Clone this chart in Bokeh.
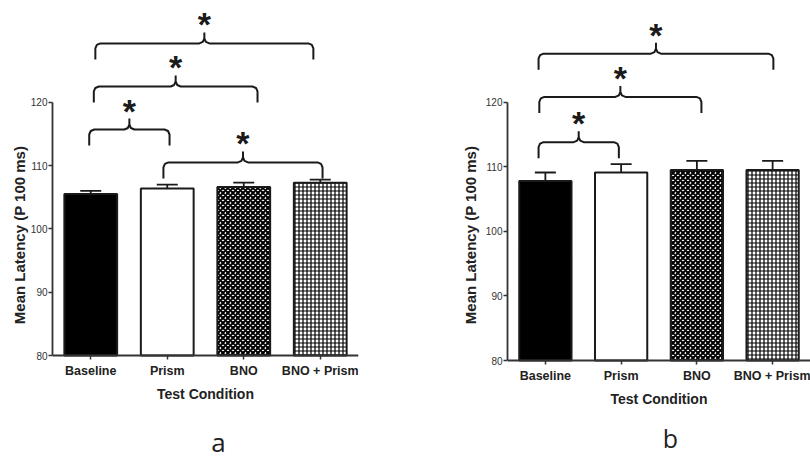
from bokeh.plotting import figure
from bokeh.layouts import row
from bokeh.models import (FixedTicker, ColumnDataSource, Range1d, FactorRange,
                          Whisker, TeeHead, Label)
from bokeh.core.properties import value
from bokeh.embed import file_html
from bokeh.resources import INLINE

# ---------------- data ----------------
categories = ["Baseline", "Prism", "BNO", "BNO + Prism"]
a_means = [105.5, 106.4, 106.6, 107.3]
a_sem = [0.5, 0.6, 0.7, 0.5]
b_means = [107.8, 109.1, 109.5, 109.5]
b_sem = [1.3, 1.3, 1.4, 1.4]
y_ticks = [80, 90, 100, 110, 120]
y_label = "Mean Latency (P 100 ms)"
x_label = "Test Condition"

# significance brackets (category-axis position of ends, height in ms units)
a_br_left = [0.48, 0.54, 0.56, 1.45]
a_br_right = [1.53, 2.68, 3.41, 3.53]
a_br_level = [115.7, 122.5, 129.3, 110.5]
b_br_left = [0.41, 0.42, 0.41]
b_br_right = [1.47, 2.56, 3.51]
b_br_level = [113.8, 120.8, 127.5]

fills = ["black", "white", "white", "white"]
hatches = [" ", " ", "diagonal_cross", "cross"]
hatch_scales = [4, 4, 5, 4]
hatch_weights = [1, 1, 2.0, 1.2]
INK = "#1a1a1a"


def panel(means, sem, br_l, br_r, br_lev, letter, border_l, border_r, axis_px,
          px_unit, ylab_standoff, letter_x, letter_px, letter_size):
    # frame spans from 10 px below the top to the bottom of the figure;
    # the value axis' 80 mark sits at axis_px from the top of the figure
    y_top = 80 + (axis_px - 10) / px_unit
    y_bottom = 80 - (459 - axis_px) / px_unit
    p = figure(width=405, height=459, x_range=FactorRange(*categories),
               y_range=Range1d(y_bottom, y_top), output_backend="svg",
               toolbar_location=None,
               min_border_left=border_l, min_border_right=border_r,
               min_border_top=10, min_border_bottom=0)
    p.outline_line_color = None
    p.xgrid.visible = False
    p.ygrid.visible = False
    p.background_fill_color = "white"
    p.border_fill_color = "white"

    src = ColumnDataSource(dict(cat=categories, top=means,
                                upper=[m + s for m, s in zip(means, sem)],
                                fill=fills, hatch=hatches, hs=hatch_scales,
                                hw=hatch_weights))
    p.add_layout(Whisker(base="cat", upper="upper", lower="top", source=src,
                         dimension="height", line_color=INK, line_width=1.8,
                         upper_head=TeeHead(size=21, line_color=INK, line_width=1.8),
                         lower_head=None))
    p.vbar(x="cat", top="top", bottom=80, width=0.69, source=src,
           fill_color="fill", line_color=INK, line_width=2,
           hatch_pattern="hatch", hatch_color="black", hatch_scale="hs",
           hatch_weight="hw")

    # brackets
    ux = 5 / 76.0
    uy = 5 / px_unit
    drop = 16 / px_unit
    tip = 11 / px_unit
    xs, ys, ax, ay = [], [], [], []
    for l, r, lev in zip(br_l, br_r, br_lev):
        m = (l + r) / 2
        xs.append([l, l, l + 0.3 * ux, l + ux, m - ux, m - 0.3 * ux, m, m, m,
                   m + 0.3 * ux, m + ux, r - ux, r - 0.3 * ux, r, r])
        ys.append([lev - drop, lev - uy, lev - 0.3 * uy, lev, lev, lev + 0.3 * uy,
                   lev + uy, lev + tip, lev + uy, lev + 0.3 * uy, lev, lev,
                   lev - 0.3 * uy, lev - uy, lev - drop])
        ax.append(m)
        ay.append(lev + tip + 11 / px_unit)
    p.multi_line(xs=xs, ys=ys, line_color=INK, line_width=2)
    p.text(x=ax, y=ay, text=["*"] * len(ax), text_font=value("Liberation Sans"),
           text_font_style="bold", text_font_size="34px", text_align="center",
           text_baseline="alphabetic", y_offset=3, text_color=INK)

    # axes
    p.xaxis.fixed_location = 80
    p.yaxis.ticker = FixedTicker(ticks=y_ticks)
    p.yaxis.bounds = (80, 120)
    for ax_ in (p.xaxis, p.yaxis):
        ax_.axis_line_color = "#333333"
        ax_.axis_line_width = 1.8
        ax_.major_tick_line_color = "#333333"
        ax_.major_tick_line_width = 1.5
        ax_.major_tick_in = 0
        ax_.major_tick_out = 4
        ax_.minor_tick_line_color = None
    p.yaxis.major_label_text_font = "Liberation Sans"
    p.yaxis.major_label_text_font_size = "10px"
    p.yaxis.major_label_text_color = "#333333"
    p.yaxis.major_label_standoff = 1
    p.yaxis.axis_label = y_label
    p.yaxis.axis_label_text_font = "Liberation Sans"
    p.yaxis.axis_label_text_font_style = "bold"
    p.yaxis.axis_label_text_font_size = "15px"
    p.yaxis.axis_label_text_color = "#222222"
    p.yaxis.axis_label_standoff = ylab_standoff
    p.xaxis.major_label_text_font = "Liberation Sans"
    p.xaxis.major_label_text_font_style = "bold"
    p.xaxis.major_label_text_font_size = "12.5px"
    p.xaxis.major_label_text_color = "#222222"
    p.xaxis.major_label_standoff = 4
    p.xaxis.axis_label = x_label
    p.xaxis.axis_label_text_font = "Liberation Sans"
    p.xaxis.axis_label_text_font_style = "bold"
    p.xaxis.axis_label_text_font_size = "14px"
    p.xaxis.axis_label_text_color = "#222222"
    p.xaxis.axis_label_standoff = 5

    p.add_layout(Label(x=letter_x, y=80 - (letter_px - axis_px) / px_unit,
                       x_units="data", y_units="data", text=letter,
                       text_align="center", text_baseline="alphabetic",
                       text_font="Open Sans", text_font_size=letter_size,
                       text_color="#222222"))
    return p


pa = panel(a_means, a_sem, a_br_left, a_br_right, a_br_level, "a",
           52, 47, 355, 6.33, 0, 2.17, 441, "26px")
pb = panel(b_means, b_sem, b_br_left, b_br_right, b_br_level, "b",
           102, 0, 360, 6.46, 4, 2.15, 437, "25px")

layout = row(pa, pb)
open("out.html", "w").write(file_html(layout, INLINE))
